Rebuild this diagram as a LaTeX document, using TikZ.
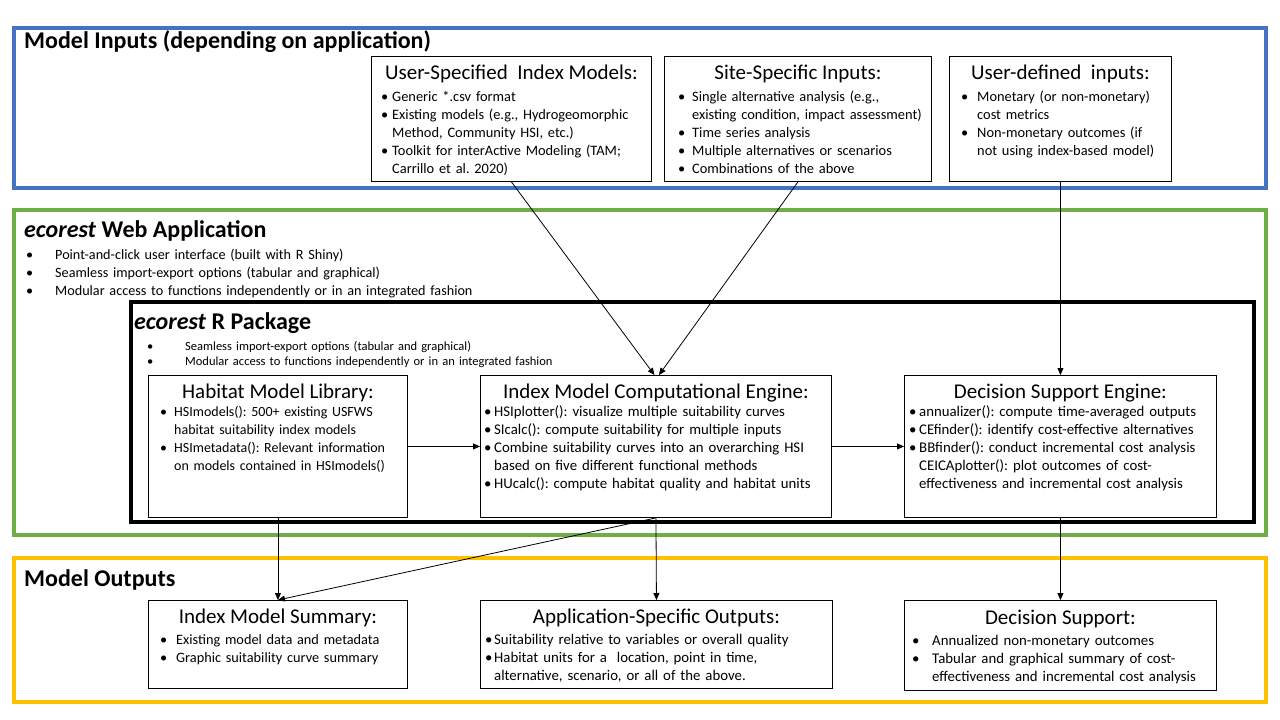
\documentclass[tikz,border=0pt]{standalone}
\usepackage{fontspec}
\setmainfont{Carlito}
\usetikzlibrary{arrows.meta,positioning}
\frenchspacing

\definecolor{inblue}{HTML}{4472C4}
\definecolor{webgreen}{HTML}{70AD47}
\definecolor{outyellow}{HTML}{FFC000}

\newenvironment{blist}[2]{%
  \begin{list}{\strut\textbullet}{%
    \setlength{\leftmargin}{#1}\setlength{\labelwidth}{#2}%
    \setlength{\labelsep}{0pt}\setlength{\itemindent}{0pt}%
    \setlength{\topsep}{0pt}\setlength{\partopsep}{0pt}%
    \setlength{\itemsep}{0pt}\setlength{\parsep}{0pt}%
    \renewcommand{\makelabel}[1]{##1\hfil}}}%
  {\end{list}}

\begin{document}
\begin{tikzpicture}[x=1pt, y=-1pt,
                    frame/.style={line width=3.5pt},
                    box/.style={draw=black, line width=0.9pt, fill=white, anchor=north west, inner sep=0pt},
                    boxtitle/.style={font=\fontsize{21}{24}\selectfont, inner sep=0pt},
                    boxlist/.style={font=\fontsize{14.8}{18}\selectfont, anchor=north west, inner sep=0pt, text width=400pt, align=left},
                    inlist/.style={font=\fontsize{14.4}{18}\selectfont},
                    header/.style={font=\fontsize{24}{28}\selectfont\bfseries, anchor=west, inner sep=0pt},
                    link/.style={-{Triangle[length=7pt,width=6pt]}, line width=0.8pt}]
                    \useasboundingbox (0,0) rectangle (1280,720);
                    \fill[white] (0,0) rectangle (1280,720);
                    \draw[frame, inblue] (14,28) rectangle (1266,188);
                    \draw[frame, webgreen] (14,210) rectangle (1266,535);
                    \draw[line width=4.5pt, black] (131,302) rectangle (1254,522);
                    \draw[frame, outyellow] (14,558) rectangle (1266,702);

                    \node[header] (inhead) at (24,42) {Model Inputs (depending on application)};
                    \node[header] (webhead) at (24,231) {\textit{ecorest} Web Application};
                    \node[header] (pkghead) at (134,323) {\textit{ecorest} R Package};
                    \node[header] (outhead) at (24,580) {Model Outputs};

                    \node[boxlist, text width=700pt, font=\fontsize{14.2}{18}\selectfont] (web-list) at (26,241) {\begin{blist}{29pt}{29pt}
                        \item Point-and-click user interface (built with R Shiny)
                        \item Seamless import-export options (tabular and graphical)
                        \item Modular access to functions independently or in an integrated fashion
                        \end{blist}};
                    \node[boxlist, text width=700pt, font=\fontsize{12.5}{15}\selectfont] (pkg-list) at (147,335) {\begin{blist}{38pt}{38pt}
                        \item Seamless import-export options (tabular and graphical)
                        \item Modular access to functions independently or in an integrated fashion
                        \end{blist}};

                    \node[box, minimum width=280pt, minimum height=125pt] (usim) at (371,56) {};
                    \node[box, minimum width=267pt, minimum height=125pt] (ssi) at (664,56) {};
                    \node[box, minimum width=222pt, minimum height=125pt] (udi) at (949,56) {};
                    \node[box, minimum width=259pt, minimum height=142pt] (hml) at (148,375) {};
                    \node[box, minimum width=351pt, minimum height=142pt] (eng) at (480,375) {};
                    \node[box, minimum width=312pt, minimum height=142pt] (dse) at (904,375) {};
                    \node[box, minimum width=259pt, minimum height=88pt] (ims) at (148,600) {};
                    \node[box, minimum width=352pt, minimum height=88pt] (aso) at (480,600) {};
                    \node[box, minimum width=312pt, minimum height=90pt] (ds) at (904,600) {};

                    \node[boxtitle] (usim-title) at ([shift={(0,18)}]usim.north) {User-Specified\ \ Index Models:};
                    \node[boxtitle] (ssi-title) at ([shift={(0,18)}]ssi.north) {Site-Specific Inputs:};
                    \node[boxtitle] (udi-title) at ([shift={(0,18)}]udi.north) {User-defined\ \ inputs:};
                    \node[boxtitle] (hml-title) at ([shift={(0,18)}]hml.north) {Habitat Model Library:};
                    \node[boxtitle] (eng-title) at ([shift={(0,18)}]eng.north) {Index Model Computational Engine:};
                    \node[boxtitle] (dse-title) at ([shift={(0,18)}]dse.north) {Decision Support Engine:};
                    \node[boxtitle] (ims-title) at ([shift={(0,18)}]ims.north) {Index Model Summary:};
                    \node[boxtitle] (aso-title) at ([shift={(0,18)}]aso.north) {Application-Specific Outputs:};
                    \node[boxtitle] (ds-title) at ([shift={(0,19)}]ds.north) {Decision Support:};

                    \node[boxlist, inlist] (usim-list) at ([shift={(0,27)}]usim.north west) {\begin{blist}{21pt}{11pt}
                        \item Generic *.csv format
                        \item Existing models (e.g., Hydrogeomorphic\\ Method, Community HSI, etc.)
                        \item Toolkit for interActive Modeling (TAM;\\ Carrillo et al. 2020)
                        \end{blist}};
                    \node[boxlist, inlist] (ssi-list) at ([shift={(0,27)}]ssi.north west) {\begin{blist}{28pt}{14pt}
                        \item Single alternative analysis (e.g.,\\ existing condition, impact assessment)
                        \item Time series analysis
                        \item Multiple alternatives or scenarios
                        \item Combinations of the above
                        \end{blist}};
                    \node[boxlist, inlist] (udi-list) at ([shift={(0,27)}]udi.north west) {\begin{blist}{28pt}{16pt}
                        \item Monetary (or non-monetary)\\ cost metrics
                        \item Non-monetary outcomes (if\\ not using index-based model)
                        \end{blist}};
                    \node[boxlist, font=\fontsize{14}{18}\selectfont] (hml-list) at ([shift={(0,23)}]hml.north west) {\begin{blist}{26pt}{14pt}
                        \item HSImodels(): 500+ existing USFWS\\ habitat suitability index models
                        \item HSImetadata(): Relevant information\\ on models contained in HSImodels()
                        \end{blist}};
                    \node[boxlist] (eng-list) at ([shift={(0,23)}]eng.north west) {\begin{blist}{14pt}{10pt}
                        \item HSIplotter(): visualize multiple suitability curves
                        \item SIcalc(): compute suitability for multiple inputs
                        \item Combine suitability curves into an overarching HSI\\ based on five different functional methods
                        \item HUcalc(): compute habitat quality and habitat units
                        \end{blist}};
                    \node[boxlist] (dse-list) at ([shift={(0,23)}]dse.north west) {\begin{blist}{15pt}{10pt}
                        \item annualizer(): compute time-averaged outputs
                        \item CEfinder(): identify cost-effective alternatives
                        \item BBfinder(): conduct incremental cost analysis\\ CEICAplotter(): plot outcomes of cost-\\ effectiveness and incremental cost analysis
                        \end{blist}};
                    \node[boxlist, font=\fontsize{14.3}{18}\selectfont] (ims-list) at ([shift={(0,26)}]ims.north west) {\begin{blist}{28pt}{16pt}
                        \item Existing model data and metadata
                        \item Graphic suitability curve summary
                        \end{blist}};
                    \node[boxlist] (aso-list) at ([shift={(0,26)}]aso.north west) {\begin{blist}{14pt}{9pt}
                        \item Suitability relative to variables or overall quality
                        \item Habitat units for a\ \ location, point in time,\\ alternative, scenario, or all of the above.
                        \end{blist}};
                    \node[boxlist] (ds-list) at ([shift={(0,27)}]ds.north west) {\begin{blist}{28pt}{20pt}
                        \item Annualized non-monetary outcomes
                        \item Tabular and graphical summary of cost-\\ effectiveness and incremental cost analysis
                        \end{blist}};

                    \draw[link] (usim.south) -- ([xshift=-1.5pt]eng.north);
                    \draw[link] (ssi.south) -- ([xshift=3pt]eng.north);
                    \draw[link] (udi.south) -- (dse.north);
                    \draw[link] (hml.east) -- (eng.west);
                    \draw[link] (eng.east) -- (dse.west);
                    \draw[link] (hml.south) -- (ims.north);
                    \draw[link] (eng.south) -- (ims.north);
                    \draw[link] (eng.south) -- (aso.north);
                    \draw[link] (dse.south) -- (ds.north);
                \end{tikzpicture}
\end{document}
